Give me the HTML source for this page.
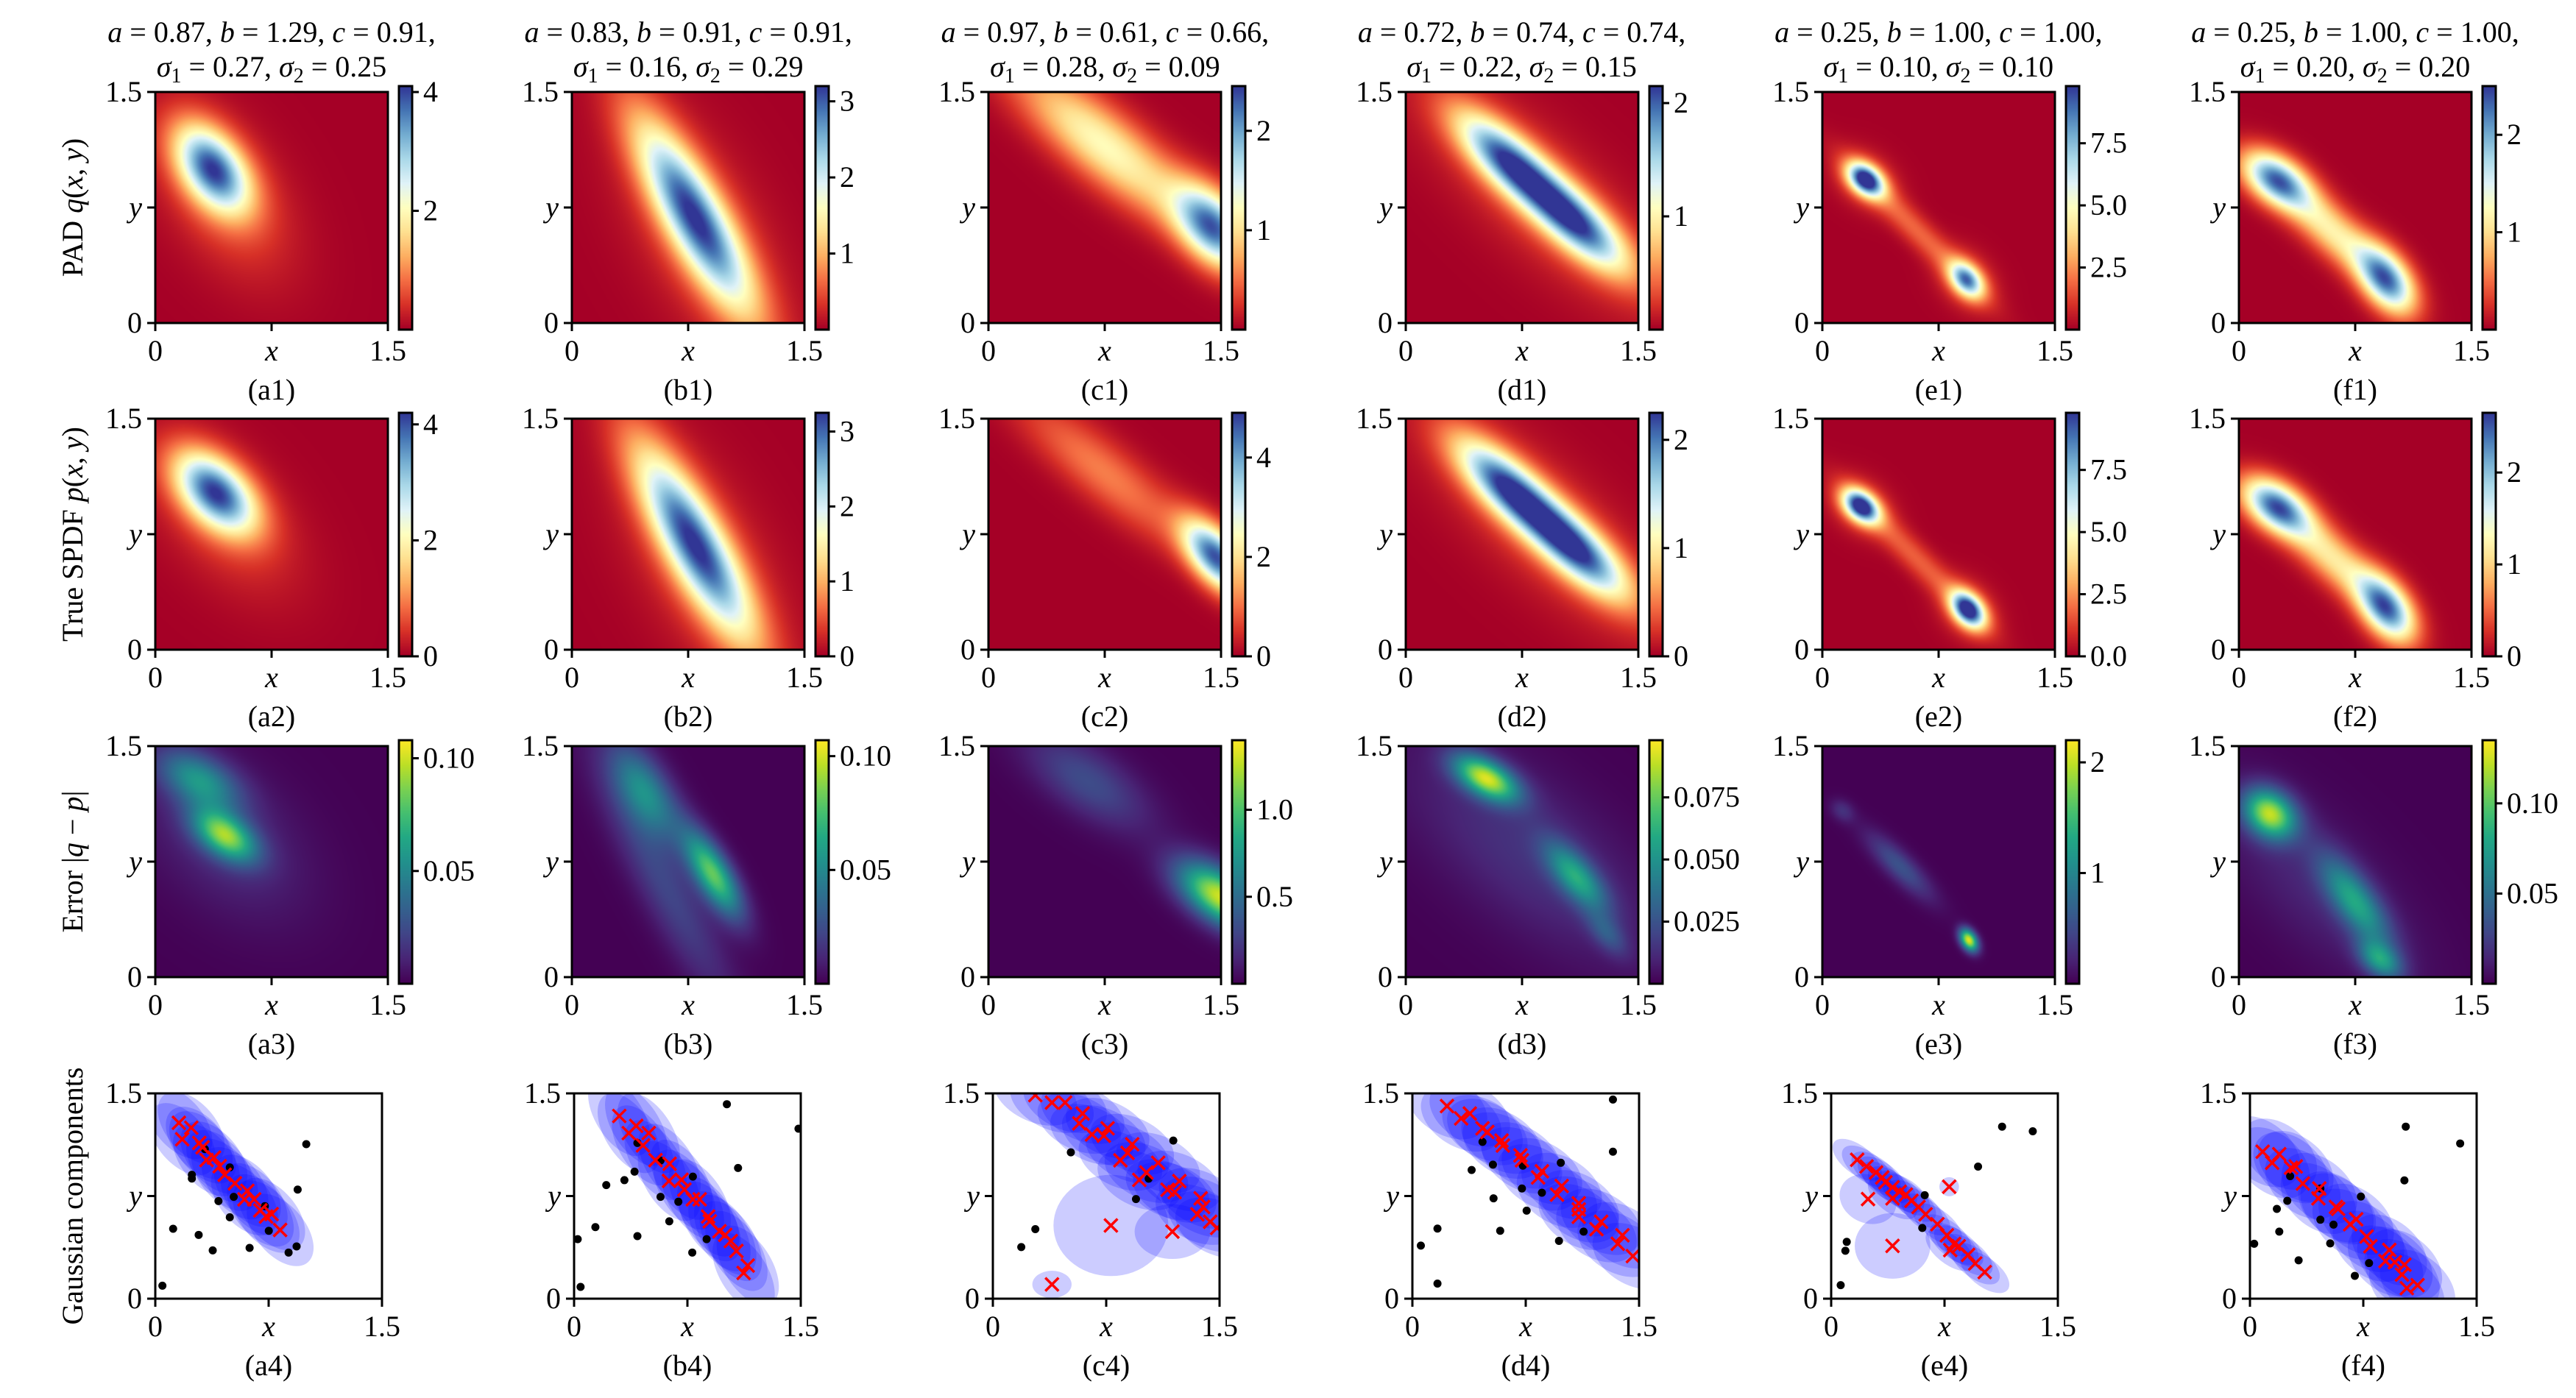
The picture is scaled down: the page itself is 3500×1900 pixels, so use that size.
<!DOCTYPE html>
<html><head><meta charset="utf-8">
<style>
html,body{margin:0;padding:0;background:#fff;}
#root{position:relative;width:3500px;height:1900px;overflow:hidden;background:#fff;}
canvas{position:absolute;display:block;}
svg{position:absolute;left:0;top:0;}
text{font-family:"Liberation Serif","DejaVu Serif",serif;fill:#000;}
</style></head>
<body>
<div id="root">
<svg id="ov" width="3500" height="1900"></svg>
</div>
<script>
// ---------------- data ----------------
const panelLetters = ["a","b","c","d","e","f"];
const paramA = [0.87,0.83,0.97,0.72,0.25,0.25];
const paramB = [1.29,0.91,0.61,0.74,1.00,1.00];
const paramC = [0.91,0.91,0.66,0.74,1.00,1.00];
const sigma1 = [0.27,0.16,0.28,0.22,0.10,0.20];
const sigma2 = [0.25,0.29,0.09,0.15,0.10,0.20];

// density components: [meanX, meanY, sigmaMajor, sigmaMinor, angleDeg, peak]
const padComponents = [
  [[0.37,1.00,0.22,0.13,-55,3.6],[0.45,0.82,0.42,0.24,-58,0.6]],
  [[0.79,0.69,0.48,0.13,-61,2.9],[0.85,0.55,0.6,0.27,-62,0.4]],
  [[1.45,0.62,0.22,0.13,-50,2.1],[0.75,1.15,0.50,0.15,-40,1.2]],
  [[0.66,1.05,0.30,0.11,-43,1.8],[1.10,0.65,0.30,0.11,-43,1.8],[0.9,0.8,0.7,0.24,-43,0.3]],
  [[0.28,0.93,0.09,0.06,-40,9.3],[0.93,0.28,0.09,0.06,-50,6.8],[0.60,0.61,0.40,0.065,-45,1.8],[0.28,0.93,0.15,0.11,-40,1.5],[0.93,0.28,0.15,0.11,-50,1.5]],
  [[0.24,0.93,0.17,0.10,-35,2.1],[0.95,0.28,0.17,0.10,-55,2.1],[0.60,0.60,0.30,0.10,-43,1.1]]
];
const trueComponents = [
  [[0.39,1.02,0.22,0.13,-45,3.8],[0.45,0.85,0.42,0.24,-50,0.5]],
  [[0.79,0.69,0.48,0.13,-61,2.95],[0.85,0.55,0.6,0.27,-62,0.4]],
  [[1.47,0.60,0.20,0.10,-50,4.5],[0.75,1.15,0.50,0.13,-40,1.1]],
  [[0.66,1.05,0.30,0.11,-43,1.95],[1.10,0.65,0.30,0.11,-43,1.95],[0.9,0.8,0.7,0.24,-43,0.3]],
  [[0.25,0.93,0.09,0.06,-40,9.3],[0.94,0.26,0.09,0.06,-50,9.3],[0.60,0.60,0.40,0.065,-45,1.7],[0.25,0.93,0.15,0.11,-40,1.5],[0.94,0.26,0.15,0.11,-50,1.5]],
  [[0.24,0.93,0.17,0.10,-35,2.3],[0.95,0.27,0.17,0.10,-55,2.3],[0.60,0.60,0.30,0.10,-43,1.1]]
];
const errorComponents = [
  [[0.45,0.92,0.16,0.09,-35,0.08],[0.28,1.28,0.2,0.11,-30,0.05],[0.45,0.9,0.45,0.28,-45,0.014]],
  [[0.91,0.67,0.22,0.08,-60,0.08],[0.47,1.21,0.24,0.11,-60,0.05],[0.6,0.6,0.6,0.12,-62,0.022]],
  [[1.50,0.52,0.22,0.11,-35,1.3],[0.64,1.27,0.32,0.14,-35,0.32]],
  [[0.52,1.29,0.16,0.08,-30,0.085],[1.10,0.65,0.19,0.08,-50,0.05],[1.30,0.28,0.12,0.06,-50,0.02],[0.8,0.8,0.7,0.3,-40,0.014]],
  [[0.945,0.24,0.055,0.035,-60,2.1],[0.50,0.72,0.20,0.06,-45,0.55],[0.13,1.08,0.06,0.045,-40,0.3]],
  [[0.20,1.06,0.13,0.10,-40,0.115],[0.75,0.49,0.24,0.09,-55,0.07],[0.91,0.11,0.11,0.07,-40,0.065],[0.5,0.6,0.6,0.25,-45,0.014]]
];
const padMax = [4.1,3.2,2.45,2.15,9.8,2.5];
const trueMax = [4.2,3.25,4.9,2.25,9.8,2.65];
const errMax = [0.108,0.107,1.4,0.098,2.2,0.135];
const padTicks = [[2,4],[1,2,3],[1,2],[1,2],[2.5,5.0,7.5],[1,2]];
const padTickLabels = [["2","4"],["1","2","3"],["1","2"],["1","2"],["2.5","5.0","7.5"],["1","2"]];
const trueTicks = [[0,2,4],[0,1,2,3],[0,2,4],[0,1,2],[0,2.5,5.0,7.5],[0,1,2]];
const trueTickLabels = [["0","2","4"],["0","1","2","3"],["0","2","4"],["0","1","2"],["0.0","2.5","5.0","7.5"],["0","1","2"]];
const errTicks = [[0.05,0.10],[0.05,0.10],[0.5,1.0],[0.025,0.050,0.075],[1,2],[0.05,0.10]];
const errTickLabels = [["0.05","0.10"],["0.05","0.10"],["0.5","1.0"],["0.025","0.050","0.075"],["1","2"],["0.05","0.10"]];

// Gaussian components row: crosses (means), outlier samples (dots)
const crossesA4 = [[0.156,1.285],[0.238,1.249],[0.178,1.165],[0.291,1.138],[0.313,1.106],[0.339,1.013],[0.388,1.031],[0.426,0.968],[0.459,0.905],[0.527,0.843],[0.609,0.788],[0.590,0.726],[0.654,0.726],[0.695,0.645],[0.733,0.600],[0.770,0.618],[0.826,0.502]];
const dotsA4 = [[0.328,1.093],[0.999,1.129],[0.493,0.959],[0.242,0.905],[0.242,0.878],[0.942,0.797],[0.418,0.713],[0.519,0.744],[0.725,0.676],[0.493,0.595],[0.118,0.511],[0.751,0.496],[0.287,0.466],[0.380,0.353],[0.624,0.371],[0.935,0.382],[0.882,0.337],[0.047,0.095]];
const crossesB4 = [[0.299,1.335],[0.411,1.263],[0.362,1.21],[0.494,1.21],[0.456,1.12],[0.539,1.012],[0.632,0.986],[0.628,0.86],[0.711,0.869],[0.730,0.797],[0.786,0.726],[0.831,0.726],[0.887,0.60],[0.898,0.565],[0.962,0.493],[1.0,0.466],[1.037,0.421],[1.074,0.349],[1.149,0.242],[1.122,0.188]];
const dotsB4 = [[1.011,1.421],[1.485,1.242],[0.419,1.138],[0.572,1.009],[1.085,0.955],[0.400,0.928],[0.786,0.892],[0.333,0.866],[0.213,0.83],[0.572,0.744],[0.69,0.708],[0.63,0.565],[0.141,0.523],[0.419,0.457],[0.024,0.435],[0.877,0.435],[0.782,0.337],[0.043,0.086]];
const crossesC4 = [[0.281,1.487],[0.391,1.433],[0.478,1.433],[0.594,1.353],[0.572,1.281],[0.656,1.2],[0.734,1.191],[0.759,1.245],[0.922,1.128],[0.891,1.065],[0.844,1.011],[1.094,0.993],[1.016,0.922],[0.969,0.868],[1.234,0.859],[1.156,0.796],[1.203,0.778],[1.375,0.733],[1.391,0.67],[1.353,0.616],[1.438,0.562],[1.484,0.517]];
const extraC4 = [[0.781,0.535,0.38,0.37,0],[1.188,0.49,0.25,0.20,0],[0.391,0.104,0.13,0.10,0]];
const dotsC4 = [[1.194,1.155],[0.516,1.069],[1.031,0.877],[0.947,0.728],[0.281,0.508],[0.188,0.377]];
const crossesD4 = [[0.229,1.407],[0.323,1.317],[0.38,1.353],[0.464,1.245],[0.496,1.218],[0.59,1.155],[0.599,1.119],[0.715,1.047],[0.725,1.011],[0.857,0.931],[0.832,0.886],[0.988,0.823],[0.957,0.76],[1.101,0.697],[1.101,0.652],[1.101,0.598],[1.249,0.562],[1.218,0.508],[1.39,0.463],[1.359,0.401],[1.459,0.311]];
const dotsD4 = [[1.327,1.455],[1.327,1.074],[0.464,1.146],[0.533,0.979],[0.731,0.972],[0.982,0.993],[0.392,0.94],[0.725,0.805],[0.857,0.774],[0.537,0.733],[0.756,0.643],[0.166,0.512],[0.581,0.496],[1.133,0.49],[0.97,0.422],[0.056,0.388],[0.166,0.11]];
const crossesE4 = [[0.172,1.015],[0.234,0.966],[0.297,0.922],[0.338,0.886],[0.359,0.85],[0.406,0.814],[0.453,0.781],[0.494,0.76],[0.531,0.715],[0.578,0.67],[0.625,0.616],[0.703,0.544],[0.766,0.463],[0.813,0.40],[0.788,0.355],[0.844,0.383],[0.906,0.32],[0.953,0.257],[1.016,0.194],[0.406,0.733]];
const extraE4 = [[0.781,0.818,0.065,0.07,0],[0.406,0.386,0.25,0.24,0],[0.244,0.728,0.20,0.17,-40]];
const dotsE4 = [[1.131,1.257],[1.334,1.223],[0.972,0.965],[0.619,0.756],[0.603,0.517],[0.103,0.415],[0.094,0.35],[0.063,0.099]];
const crossesF4 = [[0.084,1.074],[0.194,1.056],[0.147,0.993],[0.272,0.957],[0.303,0.966],[0.35,0.841],[0.459,0.805],[0.453,0.733],[0.569,0.67],[0.584,0.656],[0.663,0.544],[0.703,0.58],[0.772,0.454],[0.797,0.383],[0.922,0.356],[0.897,0.275],[0.959,0.266],[1.022,0.248],[1.006,0.176],[1.038,0.077],[1.109,0.099]];
const dotsF4 = [[1.031,1.257],[1.391,1.134],[1.022,0.864],[0.266,0.895],[0.466,0.805],[0.734,0.746],[0.247,0.715],[0.178,0.656],[0.466,0.577],[0.553,0.541],[0.194,0.49],[0.531,0.404],[0.028,0.401],[0.322,0.28],[0.788,0.26],[0.694,0.167]];
// ellipse shape per panel: [semiMajor, semiMinor, angleDeg]
const ellipseShape = [[0.30,0.17,-55],[0.32,0.16,-62],[0.30,0.19,-30],[0.30,0.20,-38],[0.20,0.10,-42],[0.30,0.20,-48]];
const scatterCrosses = [crossesA4,crossesB4,crossesC4,crossesD4,crossesE4,crossesF4];
const scatterExtras = [[],[],extraC4,[],extraE4,[]];
const scatterDots = [dotsA4,dotsB4,dotsC4,dotsD4,dotsE4,dotsF4];

// ---------------- layout ----------------
const DMAX = 1.5;
const HM_W = 316, HM_H = 314;
const heatX = i => 211 + i*566.2;
const heatRowY = [125, 569, 1014];
const SC_W = 308, SC_H = 279, SC_Y = 1486;
const scatX = i => 211 + i*569.2;
const FS = 40;

const RDYLBU = ["#a50026","#d73027","#f46d43","#fdae61","#fee090","#ffffbf","#e0f3f8","#abd9e9","#74add1","#4575b4","#313695"];
const VIRIDIS = ["#440154","#482475","#414487","#355f8d","#2a788e","#21918c","#22a884","#44bf70","#7ad151","#bddf26","#fde725"];
function hex(h){return [parseInt(h.slice(1,3),16),parseInt(h.slice(3,5),16),parseInt(h.slice(5,7),16)];}
const RD = RDYLBU.map(hex), VI = VIRIDIS.map(hex);
function cmap(stops,t){
  t=Math.max(0,Math.min(1,t)); const f=t*(stops.length-1); const i=Math.min(stops.length-2,Math.floor(f)); const r=f-i;
  const a=stops[i],b=stops[i+1]; return [a[0]+(b[0]-a[0])*r,a[1]+(b[1]-a[1])*r,a[2]+(b[2]-a[2])*r];
}
function density(comps,x,y){
  let v=0;
  for(const c of comps){
    const th=c[4]*Math.PI/180, co=Math.cos(th), si=Math.sin(th);
    const dx=x-c[0], dy=y-c[1];
    const u=dx*co+dy*si, w=-dx*si+dy*co;
    v+=c[5]*Math.exp(-0.5*(u*u/(c[2]*c[2])+w*w/(c[3]*c[3])));
  }
  return v;
}

const root=document.getElementById('root');
const svg=document.getElementById('ov');
const NS='http://www.w3.org/2000/svg';
function el(tag,attrs,parent){const e=document.createElementNS(NS,tag);for(const k in attrs)e.setAttribute(k,attrs[k]);(parent||svg).appendChild(e);return e;}

function txt(x,y,str,anchor,parent){
  const t=el('text',{x:x,y:y,'font-size':FS,'text-anchor':anchor||'middle'},parent);
  t.textContent=str; return t;
}
function span(t,str,italic,extra){
  const s=document.createElementNS(NS,'tspan'); if(italic)s.setAttribute('font-style','italic');
  if(extra)for(const k in extra)s.setAttribute(k,extra[k]);
  s.textContent=str; t.appendChild(s); return s;
}

function drawAxes(x0,y0,w,h,label,prefix){
  const g=el('g',{});
  
  
  const xs=v=>x0+v/DMAX*w, ys=v=>y0+h-v/DMAX*h;
  const ticks=[0,0.75,1.5];
  ticks.forEach((v,k)=>{
    el('line',{x1:xs(v),y1:y0+h,x2:xs(v),y2:y0+h+11,stroke:'#000','stroke-width':3},g);
    el('line',{x1:x0,y1:ys(v),x2:x0-11,y2:ys(v),stroke:'#000','stroke-width':3},g);
  });
  const xl=["0","x","1.5"];
  xl.forEach((s,k)=>{const t=txt(xs(ticks[k]),y0+h+51,s,'middle',g); if(k===1)t.setAttribute('font-style','italic');
    
    });
  xl.forEach((s,k)=>{const s2=k===1?"y":s; const t=txt(x0-18,ys(ticks[k])+13,s2,'end',g); if(k===1)t.setAttribute('font-style','italic');
    
    });
  el('rect',{x:x0,y:y0,width:w,height:h,fill:'none',stroke:'#000','stroke-width':3},g);
  const lt=txt(x0+w/2,y0+h+104,label,'middle',g);
  
  
}

function heatmap(rowIdx,col,comps,vmax,stops,ticks,tickLabels,rowName){
  const x0=Math.round(heatX(col)), y0=heatRowY[rowIdx];
  const cv=document.createElement('canvas'); cv.width=HM_W; cv.height=HM_H;
  cv.style.left=x0+'px'; cv.style.top=y0+'px';
  
  
  root.insertBefore(cv,svg);
  const ctx=cv.getContext('2d'); const img=ctx.createImageData(HM_W,HM_H);
  for(let py=0;py<HM_H;py++){
    const y=(1-(py+0.5)/HM_H)*DMAX;
    for(let px=0;px<HM_W;px++){
      const x=(px+0.5)/HM_W*DMAX;
      const c=cmap(stops,density(comps,x,y)/vmax);
      const o=(py*HM_W+px)*4; img.data[o]=c[0];img.data[o+1]=c[1];img.data[o+2]=c[2];img.data[o+3]=255;
    }
  }
  ctx.putImageData(img,0,0);
  const cx=x0+331, cy=y0-8, cw=18, ch=HM_H+17;
  const cb=document.createElement('canvas'); cb.width=cw; cb.height=ch;
  cb.style.left=cx+'px'; cb.style.top=cy+'px';
  
  
  root.insertBefore(cb,svg);
  const c2=cb.getContext('2d');
  for(let py=0;py<ch;py++){const c=cmap(stops,1-py/(ch-1));c2.fillStyle='rgb('+c.map(Math.round).join(',')+')';c2.fillRect(0,py,cw,1);}
  const g=el('g',{});
  
  
  el('rect',{x:cx,y:cy,width:cw,height:ch,fill:'none',stroke:'#000','stroke-width':3},g);
  ticks.forEach((v,k)=>{
    const ty=cy+ch-v/vmax*ch;
    el('line',{x1:cx+cw,y1:ty,x2:cx+cw+9,y2:ty,stroke:'#000','stroke-width':3},g);
    const t=txt(cx+cw+15,ty+13,tickLabels[k],'start',g);
    
    
  });
  drawAxes(x0,y0,HM_W,HM_H,'('+panelLetters[col]+(rowIdx+1)+')',rowName+'-'+panelLetters[col]);
}

// titles
for(let i=0;i<6;i++){
  const cx=heatX(i)+HM_W/2;
  const t1=el('text',{x:cx,y:57,'font-size':FS,'text-anchor':'middle'});
  
  
  span(t1,'a',true); span(t1,' = '+paramA[i].toFixed(2)+', '); span(t1,'b',true); span(t1,' = '+paramB[i].toFixed(2)+', ');
  span(t1,'c',true); span(t1,' = '+paramC[i].toFixed(2)+',');
  const t2=el('text',{x:cx,y:104,'font-size':FS,'text-anchor':'middle'});
  
  
  span(t2,'σ',true); span(t2,'1',false,{'font-size':28,dy:8}); span(t2,' = '+sigma1[i].toFixed(2)+', ',false,{dy:-8});
  span(t2,'σ',true); span(t2,'2',false,{'font-size':28,dy:8}); span(t2,' = '+sigma2[i].toFixed(2),false,{dy:-8});
}

for(let i=0;i<6;i++){
  heatmap(0,i,padComponents[i],padMax[i],RD,padTicks[i],padTickLabels[i],'pad');
  heatmap(1,i,trueComponents[i],trueMax[i],RD,trueTicks[i],trueTickLabels[i],'true');
  heatmap(2,i,errorComponents[i],errMax[i],VI,errTicks[i],errTickLabels[i],'error');
}

// scatter row
const defs=el('defs',{});
for(let i=0;i<6;i++){
  const x0=Math.round(scatX(i)), y0=SC_Y;
  const kx=SC_W/DMAX, ky=SC_H/DMAX;
  const cp=el('clipPath',{id:'clip'+i},defs); el('rect',{x:x0,y:y0,width:SC_W,height:SC_H},cp);
  const g=el('g',{'clip-path':'url(#clip'+i+')'});
  
  
  const gd=el('g',{transform:'translate('+x0+','+(y0+SC_H)+') scale('+kx+','+(-ky)+')'},g);
  const sh=ellipseShape[i];
  scatterCrosses[i].forEach(p=>{
    const e=el('ellipse',{cx:p[0],cy:p[1],rx:sh[0],ry:sh[1],transform:'rotate('+sh[2]+' '+p[0]+' '+p[1]+')',fill:'#0000ff','fill-opacity':0.2},gd);
    
    
  });
  scatterExtras[i].forEach(p=>{
    const e=el('ellipse',{cx:p[0],cy:p[1],rx:p[2],ry:p[3],transform:'rotate('+p[4]+' '+p[0]+' '+p[1]+')',fill:'#0000ff','fill-opacity':0.2},gd);
    
    
  });
  const X=v=>x0+v*kx, Y=v=>y0+SC_H-v*ky;
  scatterDots[i].forEach(p=>{
    const d=el('circle',{cx:X(p[0]),cy:Y(p[1]),r:5.5,fill:'#000'},g);
    
    
  });
  const allC=scatterCrosses[i].concat(scatterExtras[i].map(p=>[p[0],p[1]]));
  allC.forEach(p=>{
    const cx=X(p[0]), cy=Y(p[1]), s=9;
    const m=el('path',{d:'M'+(cx-s)+' '+(cy-s)+'L'+(cx+s)+' '+(cy+s)+'M'+(cx-s)+' '+(cy+s)+'L'+(cx+s)+' '+(cy-s),stroke:'#ff0000','stroke-width':3.5,fill:'none'},g);
    
    
  });
  drawAxes(x0,y0,SC_W,SC_H,'('+panelLetters[i]+'4)','gaussian-'+panelLetters[i]);
}

// row labels
function rowLabel(cy,parts,name){
  const t=el('text',{x:0,y:0,'font-size':FS,'text-anchor':'middle',transform:'translate(112,'+cy+') rotate(-90)'});
  
  
  parts.forEach(p=>span(t,p[0],p[1]));
}
rowLabel(heatRowY[0]+HM_H/2,[['PAD ',false],['q',true],['(',false],['x',true],[', ',false],['y',true],[')',false]],'row-label-pad');
rowLabel(heatRowY[1]+HM_H/2,[['True SPDF ',false],['p',true],['(',false],['x',true],[', ',false],['y',true],[')',false]],'row-label-true-spdf');
rowLabel(heatRowY[2]+HM_H/2,[['Error |',false],['q',true],[' − ',false],['p',true],['|',false]],'row-label-error');
rowLabel(SC_Y+SC_H/2,[['Gaussian components',false]],'row-label-gaussian-components');
</script>
</body></html>
